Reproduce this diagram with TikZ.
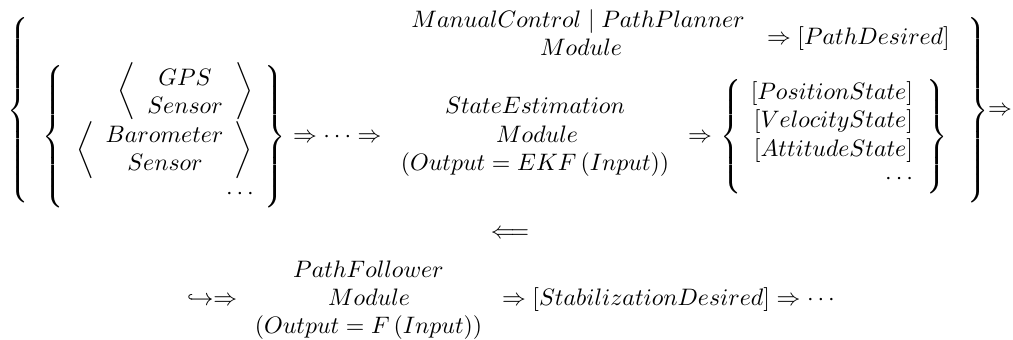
\documentclass[tikz,border=0pt]{standalone}
% extensible delimiters drawn at exactly the requested size
\delimiterfactor=1000
\delimitershortfall=0pt
\nulldelimiterspace=0pt
\newcommand{\bracel}[1]{$\left\{\vcenter{\hbox{\rule{0pt}{#1}}}\right.$}
\newcommand{\bracer}[1]{$\left.\vcenter{\hbox{\rule{0pt}{#1}}}\right\}$}
\tikzset{
  ln/.style={anchor=base, inner sep=0pt, outer sep=0pt},
  lnw/.style={anchor=base west, inner sep=0pt, outer sep=0pt},
  lne/.style={anchor=base east, inner sep=0pt, outer sep=0pt},
  dl/.style={anchor=center, inner sep=0pt, outer sep=0pt},
}
\begin{document}
\begin{tikzpicture}[x=0.42pt, y=-0.42pt]
\useasboundingbox (0,0) rectangle (1013,339);

% outer grouping braces
\node[dl] (outerL) at (18.5,110.5) {\bracel{78pt}};
\node[dl] (outerR) at (978.5,110.5) {\bracer{78pt}};
\node[ln] (outArrow) at (1000,115) {$\Rightarrow$};

% sensor group
\node[dl] (sensL) at (53.5,136.5) {\bracel{60pt}};
\node[dl] (gpsL) at (126.5,91.5) {$\biggl\langle$};
\node[ln] (gps) at (185,85) {$GPS$};
\node[ln] (gpsS) at (185,113) {$Sensor$};
\node[dl] (gpsR) at (244,91.5) {$\biggr\rangle$};
\node[dl] (baroL) at (85,150) {$\biggl\langle$};
\node[ln] (baro) at (164.5,142) {$Barometer$};
\node[ln] (baroS) at (165,170) {$Sensor$};
\node[dl] (baroR) at (243.5,150) {$\biggr\rangle$};
\node[ln] (sensDots) at (240,199) {$\cdots$};
\node[dl] (sensR) at (275,136.5) {\bracer{60pt}};
\node[lnw] (chain) at (293,142.5) {$\Rightarrow\cdots\Rightarrow$};

% path planning row
\node[ln] (planner) at (578,27) {$ManualControl \mid PathPlanner$};
\node[ln] (plannerM) at (581,55) {$Module$};
\node[lnw] (pathDes) at (767,44) {$\Rightarrow[PathDesired]$};

% state estimation
\node[ln] (est) at (535,113) {$StateEstimation$};
\node[ln] (estM) at (537,142) {$Module$};
\node[ln] (estF) at (535,170) {$(Output=EKF\left(Input\right))$};
\node[ln] (estArrow) at (700,142.5) {$\Rightarrow$};

% estimated states
\node[dl] (stateL) at (731.5,136.5) {\bracel{47.5pt}};
\node[lne] (pos) at (913,99) {$[PositionState]$};
\node[lne] (vel) at (913,127.5) {$[VelocityState]$};
\node[lne] (att) at (913,156) {$[AttitudeState]$};
\node[lne] (stateDots) at (913,184.5) {$\cdots$};
\node[dl] (stateR) at (937,136.5) {\bracer{47.5pt}};

% return arrow
\node[ln] (back) at (510,238) {$\Longleftarrow$};

% path follower row
\node[lnw] (hook) at (187,305) {$\hookrightarrow\Rightarrow$};
\node[ln] (follow) at (368.5,277) {$PathFollower$};
\node[ln] (followM) at (369,305) {$Module$};
\node[ln] (followF) at (368.5,333) {$(Output=F\left(Input\right))$};
\node[lnw] (stab) at (502,305) {$\Rightarrow[StabilizationDesired]\Rightarrow\cdots$};
\end{tikzpicture}
\end{document}
